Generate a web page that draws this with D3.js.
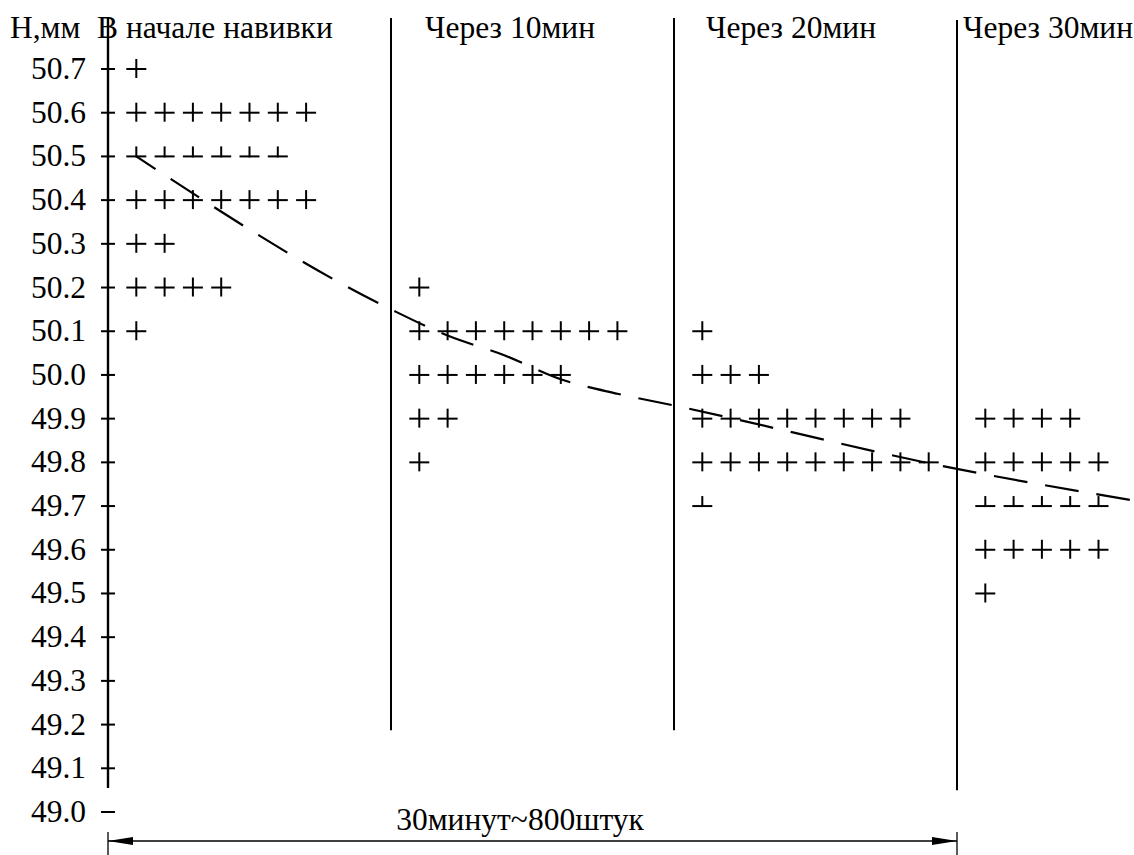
<!DOCTYPE html>
<html>
<head>
<meta charset="utf-8">
<script src="https://cdn.jsdelivr.net/npm/d3@7"></script>
<style>
    body { margin: 0; background: #fff; }
</style>
</head>
<body>
<div id="chart-container"></div>
<script>
// tick labels of the H axis, mm
const yTicks = [49.0, 49.1, 49.2, 49.3, 49.4, 49.5, 49.6, 49.7, 49.8, 49.9, 50.0, 50.1, 50.2, 50.3, 50.4, 50.5, 50.6, 50.7];

// sample groups: title and start time (min)
const groupNames = ["В начале навивки", "Через 10мин", "Через 20мин", "Через 30мин"];
const groupStart = [0, 10, 20, 30];

// [height, number of parts] for every group
const atStart = [[50.7, 1], [50.6, 7], [50.5, 6], [50.4, 7], [50.3, 2], [50.2, 4], [50.1, 1]];
const after10 = [[50.2, 1], [50.1, 8], [50.0, 6], [49.9, 2], [49.8, 1]];
const after20 = [[50.1, 1], [50.0, 3], [49.9, 8], [49.8, 9], [49.7, 1]];
const after30 = [[49.9, 4], [49.8, 5], [49.7, 5], [49.6, 5], [49.5, 1]];
const groups = [atStart, after10, after20, after30];

// dashed trend, [minute, height]
const trend = [[1, 50.50], [10, 50.15], [12, 50.09], [14, 50.045], [16, 49.99], [18, 49.957], [20, 49.93], [30, 49.785], [36.3, 49.712]];

const spanLabel = "30минут~800штук";
const axisTitle = "Н,мм";

const width = 1134;
const height = 855;
const fontSize = 31.5;

const svg = d3.select("#chart-container")
    .append("svg")
    .attr("width", width)
    .attr("height", height)
    .attr("font-family", "Liberation Serif, serif");

const x = d3.scaleLinear().domain([0, 30]).range([108, 957]);
const y = d3.scaleLinear().domain([49.0, 50.7]).range([812, 69]);

// vertical axis line and ticks
svg.append("line")
    .attr("x1", x(0)).attr("x2", x(0))
    .attr("y1", 18).attr("y2", y(49.055))
    .attr("stroke", "#000").attr("stroke-width", 2.4);

svg.append("g")
    .selectAll("line")
    .data(yTicks)
    .enter()
    .append("line")
    .attr("x1", x(0) - 7).attr("x2", x(0) + 7)
    .attr("y1", d => y(d)).attr("y2", d => y(d))
    .attr("stroke", "#000").attr("stroke-width", 2);

svg.append("g")
    .selectAll("text")
    .data(yTicks)
    .enter()
    .append("text")
    .attr("x", 86)
    .attr("y", d => y(d) + 10)
    .attr("text-anchor", "end")
    .attr("font-size", fontSize)
    .text(d => d.toFixed(1));

svg.append("text")
    .attr("x", 10).attr("y", 38)
    .attr("font-size", fontSize)
    .text(axisTitle);

// separators between the groups
const sepBottom = [null, 49.187, 49.187, 49.05];
svg.append("g")
    .selectAll("line")
    .data(groupStart.slice(1))
    .enter()
    .append("line")
    .attr("x1", d => x(d)).attr("x2", d => x(d))
    .attr("y1", (d, i) => i === 2 ? 20 : 18)
    .attr("y2", (d, i) => y(sepBottom[i + 1]))
    .attr("stroke", "#000").attr("stroke-width", 2);

const headerDx = [-11, 34, 32, 6];
svg.append("g")
    .selectAll("text")
    .data(groupNames)
    .enter()
    .append("text")
    .attr("x", (d, i) => x(groupStart[i]) + headerDx[i])
    .attr("y", 38)
    .attr("font-size", fontSize)
    .text(d => d);

// plus markers, one per part, one minute apart
const cutBottom = [[0, 50.5], [2, 49.7], [3, 49.7]];
const marks = [];
groups.forEach((rows, g) => {
    rows.forEach(([h, n]) => {
        const cut = cutBottom.some(c => c[0] === g && c[1] === h);
        for (let k = 1; k <= n; k++) {
            marks.push({ t: groupStart[g] + k, h: h, cut: cut });
        }
    });
});

const mark = svg.append("g")
    .selectAll("g")
    .data(marks)
    .enter()
    .append("g")
    .attr("transform", d => `translate(${x(d.t)},${y(d.h)})`)
    .attr("stroke", "#000")
    .attr("stroke-width", 2);

mark.append("line").attr("x1", -10).attr("x2", 10).attr("y1", 0).attr("y2", 0);
mark.append("line")
    .attr("x1", 0).attr("x2", 0)
    .attr("y1", -10)
    .attr("y2", d => d.cut ? 1 : 9);

// trend
const line = d3.line()
    .x(d => x(d[0]))
    .y(d => y(d[1]))
    .curve(d3.curveMonotoneX);

svg.append("path")
    .datum(trend)
    .attr("d", line)
    .attr("fill", "none")
    .attr("stroke", "#000")
    .attr("stroke-width", 2.2)
    .attr("stroke-dasharray", "34,18")
    .attr("stroke-dashoffset", 11);

// span arrow at the bottom
const arrowY = 841;
svg.append("line")
    .attr("x1", x(0)).attr("x2", x(30))
    .attr("y1", arrowY).attr("y2", arrowY)
    .attr("stroke", "#000").attr("stroke-width", 1.3);

svg.append("g")
    .selectAll("line")
    .data([0, 30])
    .enter()
    .append("line")
    .attr("x1", d => x(d)).attr("x2", d => x(d))
    .attr("y1", arrowY - 9).attr("y2", height)
    .attr("stroke", "#000").attr("stroke-width", 1.3);

svg.append("g")
    .selectAll("path")
    .data([[0, 1], [30, -1]])
    .enter()
    .append("path")
    .attr("d", d => {
        const x0 = x(d[0]);
        return `M${x0},${arrowY} L${x0 + d[1] * 25},${arrowY - 4} L${x0 + d[1] * 25},${arrowY + 4} Z`;
    })
    .attr("fill", "#000");

svg.append("text")
    .attr("x", 520).attr("y", 830)
    .attr("text-anchor", "middle")
    .attr("font-size", fontSize)
    .text(spanLabel);
</script>
</body>
</html>
